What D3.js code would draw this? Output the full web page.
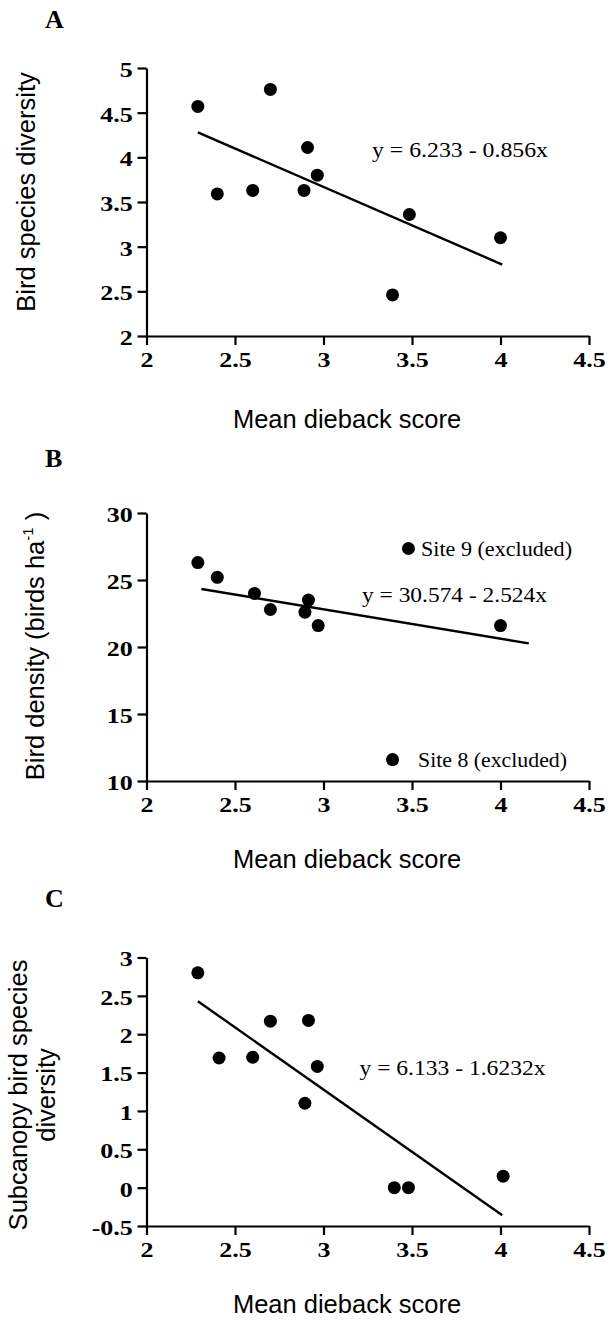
<!DOCTYPE html>
<html>
<head>
<meta charset="utf-8">
<script src="https://cdn.jsdelivr.net/npm/d3@7"></script>
<style>
body { margin: 0; background: #fff; }
</style>
</head>
<body>
<div id="chart"></div>
<script>
// values
var xTicks = [2, 2.5, 3, 3.5, 4, 4.5];

// A - bird species diversity
var diebackA   = [2.29, 2.40, 2.60, 2.70, 2.89, 2.91, 2.965, 3.39, 3.485, 4.00];
var diversityA = [4.57, 3.59, 3.63, 4.76, 3.63, 4.11, 3.80, 2.46, 3.36, 3.10];
var fitA = [[2.29, 4.28], [4.01, 2.80]];
var yTicksA = [2, 2.5, 3, 3.5, 4, 4.5, 5];

// B - bird density
var diebackB = [2.29, 2.40, 2.61, 2.70, 2.895, 2.915, 2.97, 4.00];
var densityB = [26.3, 25.2, 24.0, 22.8, 22.6, 23.5, 21.6, 21.6];
var excludedB = [
    {site: "Site 9 (excluded)", x: 3.48, y: 27.35},
    {site: "Site 8 (excluded)", x: 3.39, y: 11.6}
];
var fitB = [[2.31, 24.33], [4.16, 20.27]];
var yTicksB = [10, 15, 20, 25, 30];

// C - subcanopy bird species diversity
var diebackC   = [2.29, 2.41, 2.60, 2.70, 2.895, 2.915, 2.965, 3.40, 3.48, 4.015];
var subcanopyC = [2.80, 1.69, 1.70, 2.17, 1.10, 2.18, 1.58, 0, 0, 0.15];
var fitC = [[2.29, 2.43], [4.01, -0.36]];
var yTicksC = [-0.5, 0, 0.5, 1, 1.5, 2, 2.5, 3];

var svg = d3.select("#chart")
    .append("svg")
    .attr("width", 611)
    .attr("height", 1321);

var x = d3.scaleLinear().domain([2, 4.5]).range([146.5, 589]);

var fmt = function(d){ return String(d); };

var panels = [
    {letter: "A", letterY: 28, yDomain: [2, 5], yRange: [336, 68], yTicks: yTicksA,
     xs: diebackA, ys: diversityA, fit: fitA,
     eq: "y = 6.233 - 0.856x", eqX: 372, eqY: 157, eqLen: 176,
     ylab: ["Bird species diversity"], ylabX: [35], ylabY: 192, xlabY: 428},
    {letter: "B", letterY: 467, yDomain: [10, 30], yRange: [781, 513], yTicks: yTicksB,
     xs: diebackB, ys: densityB, fit: fitB,
     eq: "y = 30.574 - 2.524x", eqX: 362, eqY: 602, eqLen: 185,
     ylab: null, ylabX: [44], ylabY: 646, xlabY: 868},
    {letter: "C", letterY: 907, yDomain: [-0.5, 3], yRange: [1226, 957.5], yTicks: yTicksC,
     xs: diebackC, ys: subcanopyC, fit: fitC,
     eq: "y = 6.133 - 1.6232x", eqX: 359.5, eqY: 1075, eqLen: 186,
     ylab: ["Subcanopy bird species", "diversity"], ylabX: [27, 55], ylabY: 1095, xlabY: 1313}
];

panels.forEach(function(p, i){
    var y = d3.scaleLinear().domain(p.yDomain).range(p.yRange);
    var g = svg.append("g");

    var xa = g.append("g")
        .attr("transform", "translate(0," + p.yRange[0] + ")")
        .call(d3.axisBottom(x).tickValues(xTicks).tickSize(9).tickSizeOuter(0).tickFormat(fmt));
    xa.selectAll("text").attr("y", 31).attr("dy", 0);

    var ya = g.append("g")
        .attr("transform", "translate(" + x(2) + ",0)")
        .call(d3.axisLeft(y).tickValues(p.yTicks).tickSize(9).tickSizeOuter(0).tickFormat(fmt));
    ya.selectAll("text").attr("x", -10.5).attr("dy", "0.42em");

    g.selectAll(".domain, .tick line").attr("stroke", "#000").attr("stroke-width", 2.2);
    g.selectAll(".tick text")
        .attr("fill", "#000")
        .style("font-family", "'Liberation Serif', 'Times New Roman', serif")
        .style("font-size", "20px")
        .style("font-weight", "bold")
        .attr("transform", "scale(1.3,1)");

    // regression line
    g.append("line")
        .attr("x1", x(p.fit[0][0])).attr("y1", y(p.fit[0][1]))
        .attr("x2", x(p.fit[1][0])).attr("y2", y(p.fit[1][1]))
        .attr("stroke", "#000").attr("stroke-width", 2.4);

    g.selectAll("circle.pt")
        .data(p.xs)
        .enter().append("circle")
        .attr("class", "pt")
        .attr("cx", function(d){ return x(d); })
        .attr("cy", function(d, j){ return y(p.ys[j]); })
        .attr("r", 6.5)
        .attr("fill", "#000");

    if (p.letter === "B") {
        g.selectAll("circle.ex")
            .data(excludedB)
            .enter().append("circle")
            .attr("class", "ex")
            .attr("cx", function(d){ return x(d.x); })
            .attr("cy", function(d){ return y(d.y); })
            .attr("r", 6.5)
            .attr("fill", "#000");
        g.selectAll("text.ex")
            .data(excludedB)
            .enter().append("text")
            .attr("class", "ex")
            .attr("x", function(d, j){ return j === 0 ? 421 : 418; })
            .attr("y", function(d, j){ return j === 0 ? 556 : 767; })
            .attr("textLength", function(d, j){ return j === 0 ? 151 : 149; })
            .attr("lengthAdjust", "spacingAndGlyphs")
            .style("font-family", "'Liberation Serif', 'Times New Roman', serif")
            .style("font-size", "21px")
            .text(function(d){ return d.site; });
    }

    // equation
    g.append("text")
        .attr("x", p.eqX).attr("y", p.eqY)
        .attr("textLength", p.eqLen)
        .attr("lengthAdjust", "spacingAndGlyphs")
        .style("font-family", "'Liberation Serif', 'Times New Roman', serif")
        .style("font-size", "20.5px")
        .text(p.eq);

    // panel letter
    g.append("text")
        .attr("x", 45).attr("y", p.letterY)
        .style("font-family", "'Liberation Serif', 'Times New Roman', serif")
        .style("font-size", "26px")
        .style("font-weight", "bold")
        .text(p.letter);

    // x label
    g.append("text")
        .attr("x", 347).attr("y", p.xlabY)
        .attr("text-anchor", "middle")
        .style("font-family", "'Liberation Sans', Arial, sans-serif")
        .style("font-size", "25.5px")
        .text("Mean dieback score");

    // y label
    if (p.ylab) {
        p.ylab.forEach(function(t, k){
            g.append("text")
                .attr("transform", "translate(" + p.ylabX[k] + "," + p.ylabY + ") rotate(-90)")
                .attr("text-anchor", "middle")
                .style("font-family", "'Liberation Sans', Arial, sans-serif")
                .style("font-size", "25.5px")
                .text(t);
        });
    } else {
        var yl = g.append("text")
            .attr("transform", "translate(" + p.ylabX[0] + "," + p.ylabY + ") rotate(-90)")
            .attr("text-anchor", "middle")
            .style("font-family", "'Liberation Sans', Arial, sans-serif")
            .style("font-size", "25.5px");
        yl.append("tspan").text("Bird density (birds ha");
        yl.append("tspan").attr("dy", -11).style("font-size", "15px").text("-1");
        yl.append("tspan").attr("dy", 11).text(" )");
    }
});
</script>
</body>
</html>
